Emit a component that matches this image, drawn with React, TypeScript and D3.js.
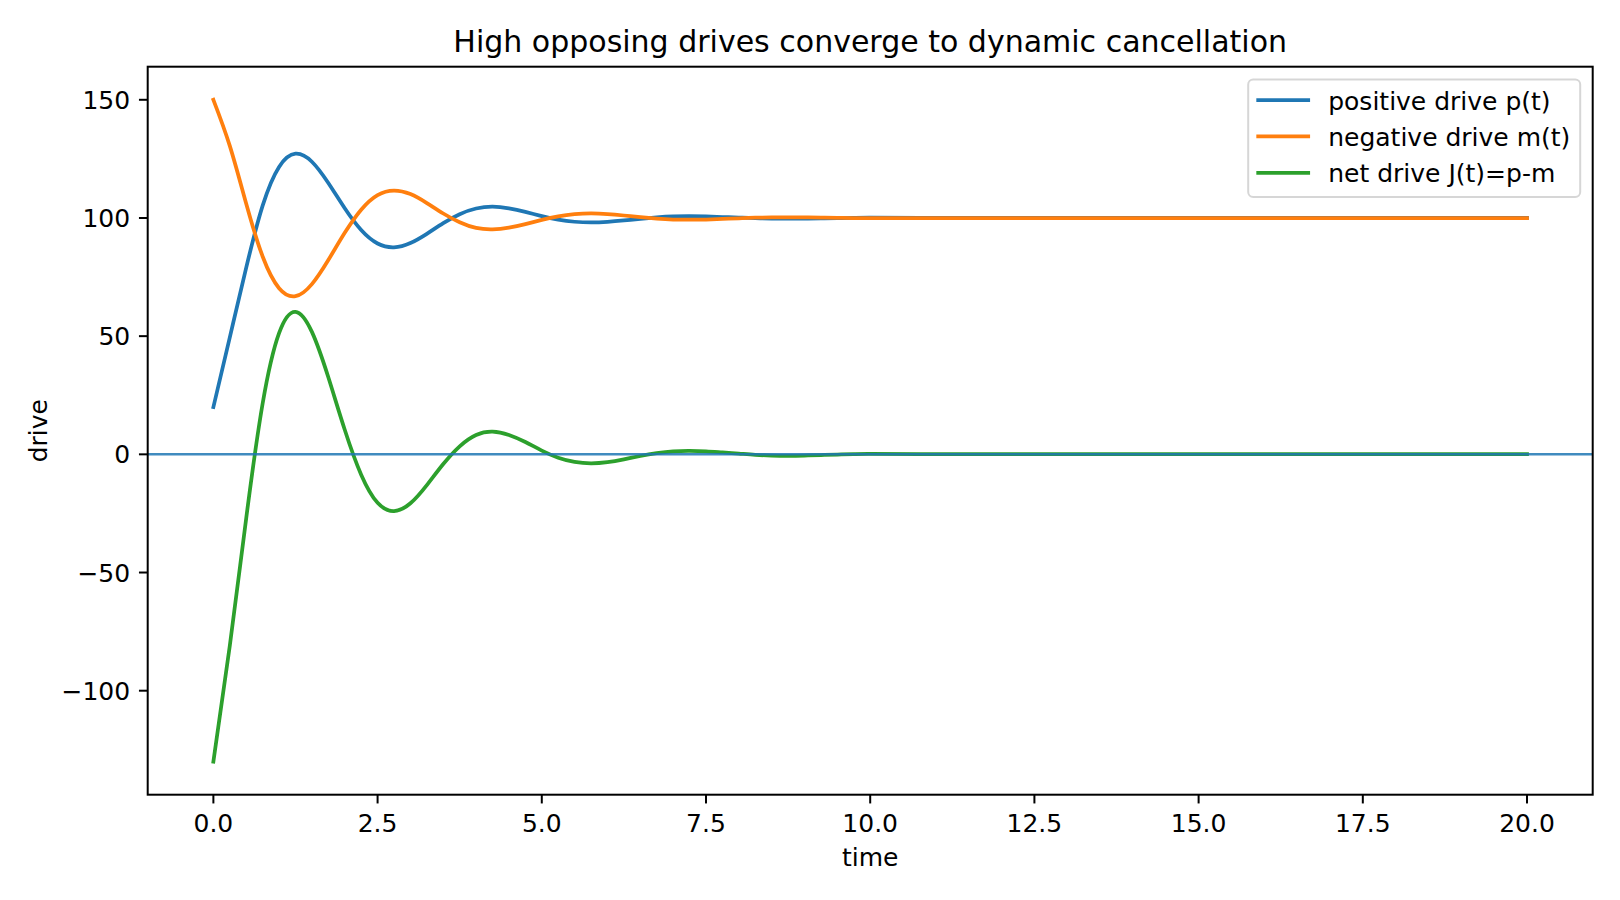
import * as React from "react";
import * as d3 from "d3";

// time samples (denser where the curves move)
const TIME = [
  0, 0.25, 0.5, 0.75, 1, 1.25, 1.5, 1.75, 2, 2.25, 2.5, 2.75, 3, 3.25, 3.5, 3.75,
  4, 4.25, 4.5, 4.75, 5, 5.25, 5.5, 5.75, 6, 6.25, 6.5, 6.75, 7, 7.25, 7.5, 7.75,
  8, 8.25, 8.5, 8.75, 9, 9.25, 9.5, 9.75, 10, 11, 12, 13, 14, 15, 16, 17, 18, 19, 20,
];

const POSITIVE = [
  20, 49.5, 79.0, 105.2, 121.6, 127.2, 123.8, 114.8, 104.1, 94.9, 89.2, 87.6, 89.4, 93.3, 97.8, 101.6,
  104.0, 104.8, 104.1, 102.6, 100.8, 99.3, 98.4, 98.1, 98.35, 98.95, 99.65, 100.25, 100.65, 100.75, 100.65, 100.4,
  100.15, 99.9, 99.75, 99.7, 99.75, 99.85, 99.95, 100.05, 100.1, 100.05, 100, 100, 100, 100, 100, 100, 100, 100, 100,
];

const NEGATIVE = [
  150, 130.5, 106.0, 83.7, 70.3, 66.9, 72.0, 82.2, 93.7, 103.5, 109.7, 111.6, 110.1, 106.3, 101.9, 98.2,
  95.8, 95.2, 95.9, 97.4, 99.2, 100.7, 101.6, 101.9, 101.65, 101.05, 100.35, 99.75, 99.35, 99.25, 99.35, 99.6,
  99.85, 100.1, 100.25, 100.3, 100.25, 100.15, 100.05, 99.95, 99.9, 99.95, 99.9, 99.9, 99.9, 99.9, 99.9, 99.9, 99.9, 99.9, 99.9,
];

const NET = [
  -130, -81, -27, 21.5, 51.3, 60.3, 51.8, 32.6, 10.4, -8.6, -20.5, -24.0, -20.7, -13.0, -4.1, 3.4,
  8.2, 9.6, 8.2, 5.2, 1.6, -1.4, -3.2, -3.8, -3.3, -2.1, -0.7, 0.5, 1.3, 1.5, 1.3, 0.8,
  0.3, -0.2, -0.5, -0.6, -0.5, -0.3, -0.1, 0.1, 0.2, 0.1, 0.1, 0.1, 0.1, 0.1, 0.1, 0.1, 0.1, 0.1, 0.1,
];

const LABELS = ["positive drive p(t)", "negative drive m(t)", "net drive J(t)=p-m"];
const COLORS = ["#1f77b4", "#ff7f0e", "#2ca02c"];

const X_TICKS = [0, 2.5, 5, 7.5, 10, 12.5, 15, 17.5, 20];
const Y_TICKS = [-100, -50, 0, 50, 100, 150];

const FONT = "DejaVu Sans";

export default function App() {
  const [width, height] = [1620, 900];
  const plot = { left: 147.7, right: 1592.7, top: 66.7, bottom: 794.7 };

  const series = [POSITIVE, NEGATIVE, NET].map((values, i) => ({
    label: LABELS[i],
    color: COLORS[i],
    points: values.map((v, j) => [TIME[j], v] as [number, number]),
  }));

  // matplotlib-style 5% margins
  const [t0, t1] = d3.extent(TIME) as [number, number];
  const allY = [...POSITIVE, ...NEGATIVE, ...NET];
  const [y0, y1] = d3.extent(allY) as [number, number];
  const padX = (t1 - t0) * 0.05;
  const padY = (y1 - y0) * 0.05;

  const x = d3.scaleLinear().domain([t0 - padX, t1 + padX]).range([plot.left, plot.right]);
  const y = d3.scaleLinear().domain([y0 - padY, y1 + padY]).range([plot.bottom, plot.top]);

  const line = d3
    .line<[number, number]>()
    .x((d) => x(d[0]))
    .y((d) => y(d[1]))
    .curve(d3.curveNatural);

  const fmtX = d3.format(".1f");
  const fmtY = (v: number) => String(v).replace("-", "\u2212");
  const tickLen = 8.75;

  // legend layout (fontsize 25px)
  const leg = { right: plot.right - 12.5, top: plot.top + 12.8, w: 332, h: 117.5 };
  const legX = leg.right - leg.w;
  const rowY = (i: number) => leg.top + 20.5 + i * 36.4;

  return (
    <svg
      width={width}
      height={height}
      style={{ position: "absolute", left: 0, top: 0, background: "#fff" }}
      fontFamily={FONT}
    >
      <rect x={0} y={0} width={width} height={height} fill="#fff" />

      <defs>
        <clipPath id="plot-clip">
          <rect x={plot.left} y={plot.top} width={plot.right - plot.left} height={plot.bottom - plot.top} />
        </clipPath>
      </defs>

      <g clipPath="url(#plot-clip)">
        {series.map((s) => (
          <path
            key={s.label}
            d={line(s.points) ?? ""}
            fill="none"
            stroke={s.color}
            strokeWidth={3.75}
            strokeLinecap="square"
            strokeLinejoin="round"
          />
        ))}
        <line
          x1={plot.left}
          x2={plot.right}
          y1={y(0)}
          y2={y(0)}
          stroke="#1f77b4"
          strokeOpacity={0.85}
          strokeWidth={2.5}
        />
      </g>

      {/* frame */}
      <rect
        x={plot.left}
        y={plot.top}
        width={plot.right - plot.left}
        height={plot.bottom - plot.top}
        fill="none"
        stroke="#000"
        strokeWidth={2}
      />

      {/* x axis */}
      {X_TICKS.map((t) => (
        <g key={"x" + t}>
          <line x1={x(t)} x2={x(t)} y1={plot.bottom} y2={plot.bottom + tickLen} stroke="#000" strokeWidth={2} />
          <text x={x(t)} y={831.5} textAnchor="middle" fontSize={25} fill="#000">
            {fmtX(t)}
          </text>
        </g>
      ))}

      {/* y axis */}
      {Y_TICKS.map((v) => (
        <g key={"y" + v}>
          <line x1={plot.left - tickLen} x2={plot.left} y1={y(v)} y2={y(v)} stroke="#000" strokeWidth={2} />
          <text x={plot.left - tickLen - 8.75} y={y(v) + 9.1} textAnchor="end" fontSize={25} fill="#000">
            {fmtY(v)}
          </text>
        </g>
      ))}

      <text x={(plot.left + plot.right) / 2} y={866} textAnchor="middle" fontSize={25} fill="#000">
        time
      </text>
      <text
        transform={`translate(47,${(plot.top + plot.bottom) / 2}) rotate(-90)`}
        textAnchor="middle"
        fontSize={25}
        fill="#000"
      >
        drive
      </text>

      <text x={(plot.left + plot.right) / 2} y={51.7} textAnchor="middle" fontSize={30} fill="#000">
        High opposing drives converge to dynamic cancellation
      </text>

      {/* legend */}
      <rect
        x={legX}
        y={leg.top}
        width={leg.w}
        height={leg.h}
        rx={5}
        fill="#fff"
        fillOpacity={0.8}
        stroke="#cccccc"
        strokeOpacity={0.8}
        strokeWidth={2}
      />
      {series.map((s, i) => (
        <g key={"leg" + s.label}>
          <line
            x1={legX + 10}
            x2={legX + 60}
            y1={rowY(i)}
            y2={rowY(i)}
            stroke={s.color}
            strokeWidth={3.75}
            strokeLinecap="square"
          />
          <text x={legX + 80} y={rowY(i) + 9.5} fontSize={25} fill="#000">
            {s.label}
          </text>
        </g>
      ))}
    </svg>
  );
}
